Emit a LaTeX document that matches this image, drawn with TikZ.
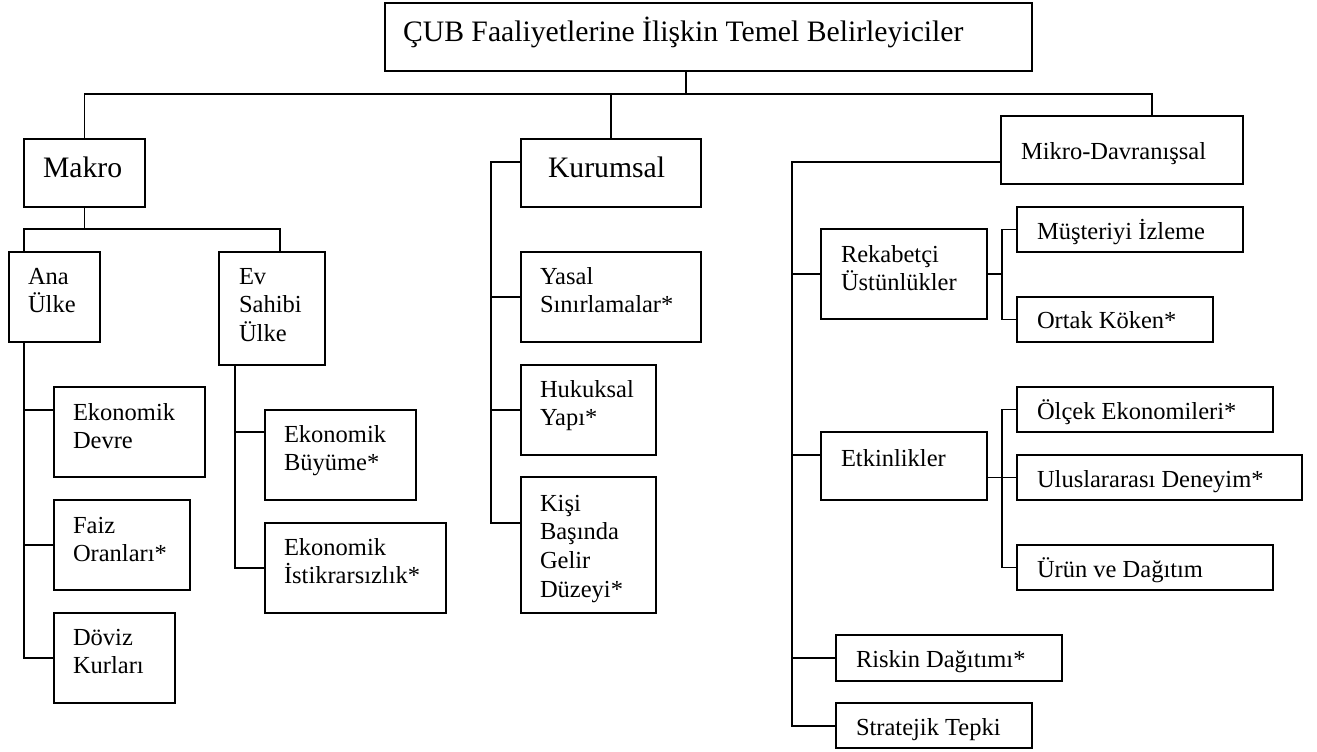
\documentclass[tikz,border=0pt]{standalone}
\usepackage{fontspec}
\setmainfont{Liberation Serif}
\newcommand{\bodyfont}{\fontsize{24.5}{28.7}\selectfont}
\newcommand{\bigfont}{\fontsize{29.7}{34}\selectfont}
\tikzset{
  bx/.style={draw=black, line width=1.2pt, inner sep=0pt, outer sep=0pt, rectangle},
  tx/.style={anchor=base west, inner sep=0pt, outer sep=0pt, font=\bodyfont},
  bigtx/.style={tx, font=\bigfont},
  ln/.style={draw=black, line width=1.2pt}
}
\newcommand{\mkbox}[5]{\node[bx, minimum width={(#4-#2)*1pt}, minimum height={(#5-#3)*1pt}] (#1) at ({(#2+#4)/2},{(#3+#5)/2}) {};}
\newcommand{\mklab}[4]{\node[tx] (#1) at (#2,#3) {\begin{tabular}[t]{@{}l@{}}#4\end{tabular}};}
\begin{document}
\begin{tikzpicture}[x=1pt,y=-1pt]
\useasboundingbox[fill=white] (0,0) rectangle (1317,752);

% boxes
\mkbox{title}{385}{3}{1032}{71}
\mkbox{makro}{24}{139}{145}{207}
\mkbox{kurumsal}{521}{139}{701}{207}
\mkbox{mikro}{1001}{116}{1243}{184}
\mkbox{ana}{9}{252}{100}{342}
\mkbox{ev}{219}{252}{325}{365}
\mkbox{dev}{54}{387}{205}{477}
\mkbox{faiz}{54}{500}{190}{590}
\mkbox{dov}{54}{613}{175}{703}
\mkbox{buy}{265}{410}{416}{500}
\mkbox{ist}{265}{523}{446}{613}
\mkbox{yasal}{521}{252}{701}{342}
\mkbox{huk}{521}{365}{656}{455}
\mkbox{kisi}{521}{477}{656}{613}
\mkbox{rek}{821}{229}{987}{319}
\mkbox{etk}{821}{432}{987}{500}
\mkbox{risk}{836}{635}{1062}{681}
\mkbox{strat}{836}{703}{1032}{748}
\mkbox{mus}{1017}{207}{1243}{252}
\mkbox{ort}{1017}{297}{1213}{342}
\mkbox{olc}{1017}{387}{1273}{432}
\mkbox{ulu}{1017}{455}{1302}{500}
\mkbox{urun}{1017}{545}{1273}{590}

% texts
\node[bigtx] (t-title) at (403,42) {ÇUB Faaliyetlerine İlişkin Temel Belirleyiciler};
\node[bigtx] (t-makro) at (43,177) {Makro};
\node[bigtx] (t-kurumsal) at (548,177) {Kurumsal};
\mklab{t-mikro}{1021}{159}{Mikro-Davranışsal}
\mklab{t-ana}{28}{284}{Ana\\Ülke}
\mklab{t-ev}{239}{284}{Ev\\Sahibi\\Ülke}
\mklab{t-dev}{73}{420}{Ekonomik\\Devre}
\mklab{t-faiz}{73}{533}{Faiz\\Oranları*}
\mklab{t-dov}{73}{645}{Döviz\\Kurları}
\mklab{t-buy}{284}{442}{Ekonomik\\Büyüme*}
\mklab{t-ist}{284}{555}{Ekonomik\\İstikrarsızlık*}
\mklab{t-yasal}{540}{284}{Yasal\\Sınırlamalar*}
\mklab{t-huk}{540}{397}{Hukuksal\\Yapı*}
\mklab{t-kisi}{540}{511}{Kişi\\Başında\\Gelir\\Düzeyi*}
\mklab{t-rek}{841}{262}{Rekabetçi\\Üstünlükler}
\mklab{t-etk}{841}{466}{Etkinlikler}
\mklab{t-mus}{1037}{239}{Müşteriyi İzleme}
\mklab{t-ort}{1037}{328}{Ortak Köken*}
\mklab{t-olc}{1037}{419}{Ölçek Ekonomileri*}
\mklab{t-ulu}{1037}{487}{Uluslararası Deneyim*}
\mklab{t-urun}{1037}{577}{Ürün ve Dağıtım}
\mklab{t-risk}{856}{667}{Riskin Dağıtımı*}
\mklab{t-strat}{856}{735}{Stratejik Tepki}

% junction coordinates
\coordinate (t0) at (686,94);
\coordinate (hl) at (84.5,94);
\coordinate (hr) at (1152,94);
\coordinate (m1) at (84.5,229);
\coordinate (mA) at (24,229);
\coordinate (mE) at (280,229);
\coordinate (bDev) at (24,410);
\coordinate (eX) at (235,432);
\coordinate (kA) at (491,162);
\coordinate (kB) at (491,523);
\coordinate (uA) at (792,162);
\coordinate (uB) at (792,726);
\coordinate (uE) at (792,455);
\coordinate (rA) at (1002,229);

% top level
\draw[ln] (title.south -| t0) -- (t0);
\draw[ln] (makro.north) -- (hl) -- (hr) -- (hr |- mikro.north);
\draw[ln] (kurumsal.north) -- (kurumsal.north |- hl);

% makro subtree
\draw[ln] (makro.south) -- (m1);
\draw[ln] (mA |- ana.north) -- (mA) -- (mE) -- (mE |- ev.north);
\draw[ln] (mA |- ana.south) -- (mA |- dov.west) -- (dov.west);
\draw[ln] (bDev) -- (bDev -| dev.west);
\draw[ln] (faiz.west -| mA) -- (faiz.west);
\draw[ln] (ev.south -| eX) -- (eX |- ist.west) -- (ist.west);
\draw[ln] (eX) -- (eX -| buy.west);

% kurumsal subtree
\draw[ln] (kA -| kurumsal.west) -- (kA) -- (kB) -- (kB -| kisi.west);
\draw[ln] (yasal.west -| kA) -- (yasal.west);
\draw[ln] (huk.west -| kA) -- (huk.west);

% mikro subtree
\draw[ln] (uA -| mikro.west) -- (uA) -- (uB) -- (uB -| strat.west);
\draw[ln] (rek.west -| uA) -- (rek.west);
\draw[ln] (uE) -- (uE -| etk.west);
\draw[ln] (risk.west -| uA) -- (risk.west);
\draw[ln] (rek.east) -- (rek.east -| rA);
\draw[ln] (mus.west) -- (mus.west -| rA) -- (ort.west -| rA) -- (ort.west);
\draw[ln] (ulu.west) -- (ulu.west -| etk.east);
\draw[ln] (olc.west) -- (olc.west -| rA) -- (urun.west -| rA) -- (urun.west);
\end{tikzpicture}
\end{document}
